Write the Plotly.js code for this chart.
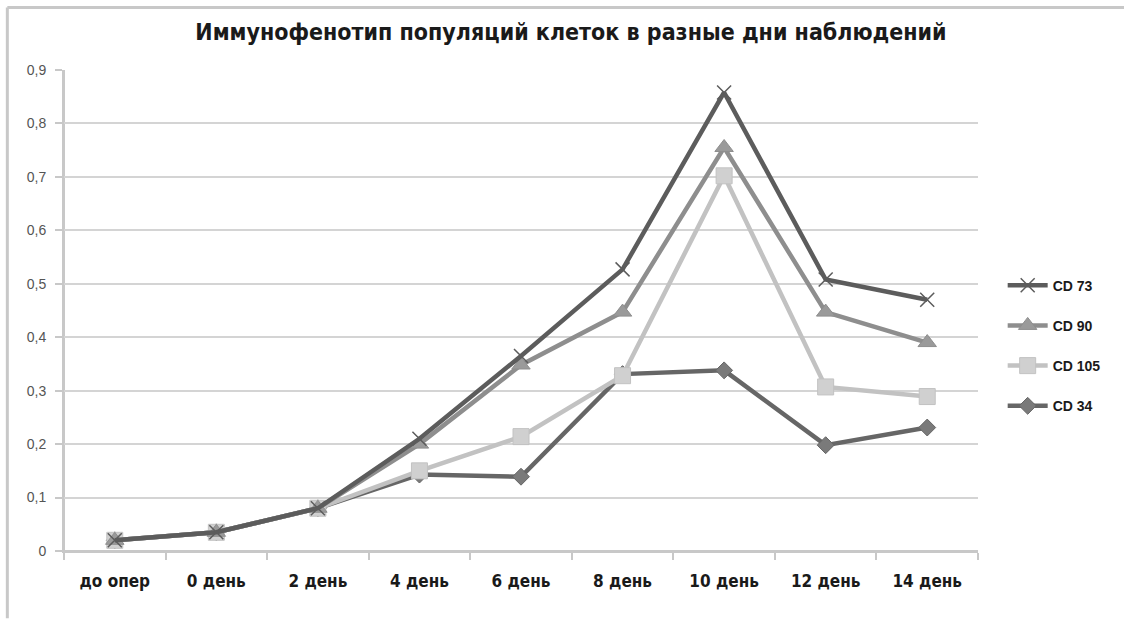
<!DOCTYPE html>
<html>
<head>
<meta charset="utf-8">
<script src="https://cdn.plot.ly/plotly-3.0.1.min.js"></script>
<style>html,body{margin:0;padding:0;background:#fff;}#chart{width:1124px;height:620px;}</style>
</head>
<body>
<div id="chart"></div>
<script>
const categories = ["до опер", "0 день", "2 день", "4 день", "6 день", "8 день", "10 день", "12 день", "14 день"];
const cd73  = [0.02, 0.035, 0.08, 0.21, 0.365, 0.527, 0.858, 0.508, 0.470];
const cd90  = [0.02, 0.035, 0.08, 0.200, 0.348, 0.447, 0.755, 0.447, 0.390];
const cd105 = [0.02, 0.035, 0.08, 0.150, 0.214, 0.328, 0.702, 0.307, 0.289];
const cd34  = [0.02, 0.035, 0.08, 0.143, 0.139, 0.331, 0.338, 0.198, 0.231];
const yTicks = [0, 0.1, 0.2, 0.3, 0.4, 0.5, 0.6, 0.7, 0.8, 0.9];
const yTickText = ["0", "0,1", "0,2", "0,3", "0,4", "0,5", "0,6", "0,7", "0,8", "0,9"];

function tr(name, y, color, symbol, size, mcolor, lg, rank) {
  return {
    type: "scatter", mode: "lines+markers", name: name, x: categories, y: y,
    legendgroup: lg, legendrank: rank,
    line: {color: color, width: 4.5},
    marker: {symbol: symbol, size: size, color: mcolor, line: {color: color, width: symbol === "x-thin" ? 1.5 : 1}}
  };
}
const data = [
  tr("CD 34", cd34, "#666666", "diamond", 13, "#7a7a7a", "d", 4),
  tr("CD 105", cd105, "#c2c2c2", "square", 16, "#d0d0d0", "c", 3),
  tr("CD 90", cd90, "#8e8e8e", "triangle-up", 16, "#9a9a9a", "b", 2),
  tr("CD 73", cd73, "#5c5c5c", "x-thin", 14, "#5c5c5c", "a", 1)
];
const layout = {
  width: 1124, height: 620,
  margin: {l: 64, r: 146, t: 70, b: 69},
  paper_bgcolor: "#fff", plot_bgcolor: "#fff",
  title: {text: "<b>Иммунофенотип популяций клеток в разные дни наблюдений</b>", x: 0.508, xanchor: "center", y: 0.948, yanchor: "middle",
    font: {family: "Liberation Sans Narrow, DejaVu Sans Condensed, Arial", size: 23, color: "#1a1a1a"}},
  xaxis: {type: "category", range: [-0.5, 8.5], showgrid: false, showline: true, linecolor: "#c8c8c8", linewidth: 2,
    ticks: "outside", tickson: "boundaries", ticklen: 7, tickwidth: 2, tickcolor: "#c8c8c8",
    tickfont: {family: "Liberation Sans Narrow, DejaVu Sans Condensed, Arial", size: 17, color: "#1a1a1a", weight: "bold"},
    zeroline: false, ticklabelstandoff: 14},
  yaxis: {range: [0, 0.9], tickvals: yTicks, ticktext: yTickText, showgrid: true, gridcolor: "#d4d4d4", gridwidth: 2,
    showline: true, linecolor: "#c8c8c8", linewidth: 2, ticks: "outside", ticklen: 7, tickwidth: 2, tickcolor: "#c8c8c8",
    tickfont: {family: "Liberation Sans, Arial", size: 14, color: "#555"}, zeroline: false, ticklabelstandoff: 6},
  legend: {x: 1.027, xanchor: "left", y: 0.585, yanchor: "top", traceorder: "grouped", tracegroupgap: 19,
    itemwidth: 40, font: {family: "Liberation Sans, Arial", size: 14, color: "#1a1a1a", weight: "bold"}, bgcolor: "rgba(0,0,0,0)"},
  shapes: [
    {type: "line", xref: "paper", yref: "paper", x0: 0, x1: 0, y0: 0, y1: 1, layer: "below", line: {color: "#c8c8c8", width: 2}},
    {type: "line", xref: "paper", yref: "paper", x0: 0, x1: 1, y0: 0, y1: 0, layer: "below", line: {color: "#c8c8c8", width: 2}},
    {type: "line", xref: "paper", yref: "paper", x0: -0.062, x1: -0.062, y0: -0.14, y1: 1.13, line: {color: "#c8c8c8", width: 3}},
    {type: "line", xref: "paper", yref: "paper", x0: -0.062, x1: 1.16, y0: 1.13, y1: 1.13, line: {color: "#c8c8c8", width: 3}}
  ],
  showlegend: true
};
Plotly.newPlot("chart", data, layout, {displayModeBar: false, staticPlot: true});
</script>
</body>
</html>
